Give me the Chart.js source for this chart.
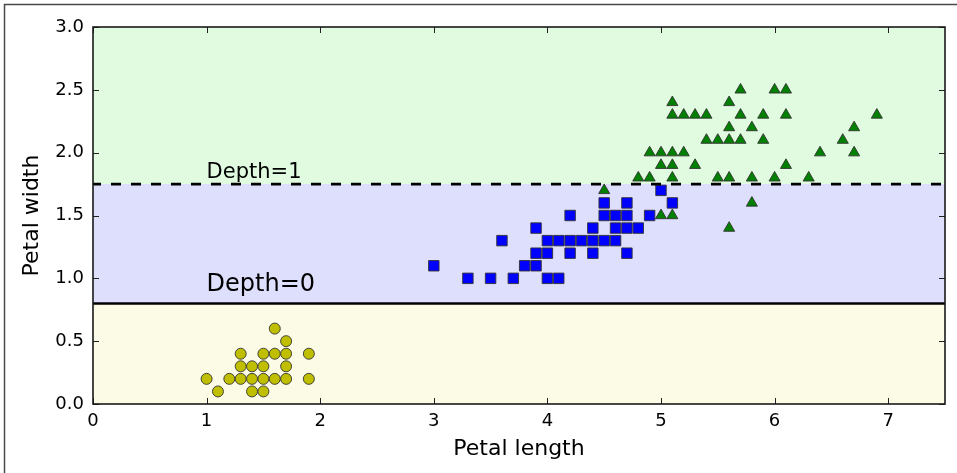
<!DOCTYPE html>
<html>
<head>
<meta charset="utf-8">
<script src="https://cdn.jsdelivr.net/npm/chart.js@4/dist/chart.umd.min.js"></script>
<style>
  html, body { margin: 0; padding: 0; background: #fff; }
  #wrap { width: 957px; height: 473px; position: relative; }
</style>
</head>
<body>
<div id="wrap"><canvas id="c" width="957" height="473"></canvas></div>
<script>
// ---- data ----
const setosaLength = [1.0, 1.1, 1.2, 1.3, 1.3, 1.3, 1.4, 1.4, 1.4, 1.5, 1.5, 1.5, 1.5, 1.6, 1.6, 1.6, 1.7, 1.7, 1.7, 1.7, 1.9, 1.9];
const setosaWidth  = [0.2, 0.1, 0.2, 0.2, 0.3, 0.4, 0.1, 0.2, 0.3, 0.1, 0.2, 0.3, 0.4, 0.2, 0.4, 0.6, 0.2, 0.3, 0.4, 0.5, 0.2, 0.4];

const versicolorLength = [4.7, 4.5, 4.9, 4.0, 4.6, 4.5, 4.7, 3.3, 4.6, 3.9, 3.5, 4.2, 4.0, 3.6, 4.4, 4.1, 3.9, 4.7, 4.3, 4.8, 5.0, 3.8, 3.7, 3.9, 5.1, 4.5, 4.7, 4.4, 4.1, 4.4, 4.6, 4.0, 4.2, 4.2, 3.0];
const versicolorWidth  = [1.4, 1.5, 1.5, 1.3, 1.5, 1.3, 1.6, 1.0, 1.3, 1.4, 1.0, 1.5, 1.0, 1.3, 1.4, 1.0, 1.1, 1.2, 1.3, 1.4, 1.7, 1.1, 1.0, 1.2, 1.6, 1.6, 1.5, 1.3, 1.3, 1.2, 1.4, 1.2, 1.3, 1.2, 1.1];

const virginicaLength = [6.0, 5.1, 5.9, 5.6, 5.8, 6.6, 4.5, 6.3, 5.8, 6.1, 5.1, 5.3, 5.5, 5.0, 5.1, 5.3, 5.5, 6.7, 6.9, 5.0, 5.7, 4.9, 6.7, 4.9, 5.7, 6.0, 4.8, 5.6, 5.8, 6.1, 6.4, 5.6, 5.1, 5.6, 6.1, 5.6, 5.4, 5.1, 5.9, 5.7, 5.2, 5.0, 5.2, 5.4, 5.1];
const virginicaWidth  = [2.5, 1.9, 2.1, 1.8, 2.2, 2.1, 1.7, 1.8, 1.8, 2.5, 2.0, 1.9, 2.1, 2.0, 2.4, 2.3, 1.8, 2.2, 2.3, 1.5, 2.3, 2.0, 2.0, 1.8, 2.1, 1.8, 1.8, 2.1, 1.6, 1.9, 2.0, 2.2, 1.5, 1.4, 2.3, 2.4, 2.1, 2.3, 2.3, 2.5, 2.3, 1.9, 2.0, 2.3, 1.8];

const depth0Threshold = 0.8;    // petal width split, depth 0
const depth1Threshold = 1.75;   // petal width split, depth 1
const xRange = [0, 7.5];
const yRange = [0, 3];
const xTickLabels = ['0', '1', '2', '3', '4', '5', '6', '7'];
const yTickLabels = ['0.0', '0.5', '1.0', '1.5', '2.0', '2.5', '3.0'];
const annotations = [
  { text: 'Depth=0', x: 1.0, y: 0.9 },
  { text: 'Depth=1', x: 1.0, y: 1.8 }
];

// ---- helpers ----
const pts = (xs, ys) => xs.map((x, i) => ({ x: x, y: ys[i] }));
const hline = (v) => [{ x: xRange[0], y: v }, { x: xRange[1], y: v }];
const FONT = "'DejaVu Sans', sans-serif";

const decorPlugin = {
  id: 'decor',
  beforeDraw(chart) {
    const ctx = chart.ctx;
    ctx.save();
    ctx.strokeStyle = '#4a4a4a';
    ctx.lineWidth = 1.5;
    ctx.beginPath();
    ctx.moveTo(4.5, 473);
    ctx.lineTo(4.5, 4.5);
    ctx.lineTo(957, 4.5);
    ctx.stroke();
    ctx.restore();
  },
  afterDatasetsDraw(chart) {
    const ctx = chart.ctx;
    const xs = chart.scales.x, ys = chart.scales.y;
    const a = chart.chartArea;
    ctx.save();
    // annotations
    ctx.fillStyle = '#000';
    ctx.textAlign = 'left';
    ctx.textBaseline = 'alphabetic';
    const sizes = [24, 21];
    annotations.forEach((an, i) => {
      ctx.font = sizes[i] + 'px ' + FONT;
      ctx.fillText(an.text, xs.getPixelForValue(an.x), ys.getPixelForValue(an.y));
    });
    // inward ticks
    ctx.strokeStyle = '#222';
    ctx.lineWidth = 1;
    const tl = 6;
    ctx.beginPath();
    xs.ticks.forEach(t => {
      const px = Math.round(xs.getPixelForValue(t.value)) + 0.5;
      ctx.moveTo(px, a.bottom); ctx.lineTo(px, a.bottom - tl);
      ctx.moveTo(px, a.top); ctx.lineTo(px, a.top + tl);
    });
    ys.ticks.forEach(t => {
      const py = Math.round(ys.getPixelForValue(t.value)) + 0.5;
      ctx.moveTo(a.left, py); ctx.lineTo(a.left + tl, py);
      ctx.moveTo(a.right, py); ctx.lineTo(a.right - tl, py);
    });
    ctx.stroke();
    // spine
    ctx.strokeStyle = '#1a1a1a';
    ctx.lineWidth = 1.6;
    ctx.strokeRect(a.left, a.top, a.right - a.left, a.bottom - a.top);
    ctx.restore();
  }
};

const markerEdge = '#333333';

new Chart(document.getElementById('c'), {
  type: 'scatter',
  data: {
    datasets: [
      { label: 'depth0', data: hline(depth0Threshold), showLine: true, borderColor: '#000', borderWidth: 2.6, pointRadius: 0, fill: false, order: 0 },
      { label: 'depth1', data: hline(depth1Threshold), showLine: true, borderColor: '#000', borderWidth: 2.6, borderDash: [10, 10], borderDashOffset: 2, pointRadius: 0, fill: false, order: 0 },
      { label: 'Iris virginica', data: pts(virginicaLength, virginicaWidth), pointStyle: 'triangle', pointRadius: 6.4, backgroundColor: '#008000', borderColor: markerEdge, borderWidth: 0.9, order: 1 },
      { label: 'Iris versicolor', data: pts(versicolorLength, versicolorWidth), pointStyle: 'rect', pointRadius: 7.4, backgroundColor: '#0000ff', borderColor: markerEdge, borderWidth: 0.9, order: 2 },
      { label: 'Iris setosa', data: pts(setosaLength, setosaWidth), pointStyle: 'circle', pointRadius: 5.5, backgroundColor: '#bfbf00', borderColor: markerEdge, borderWidth: 0.9, order: 3 },
      { label: 'regionYellow', data: hline(depth0Threshold), showLine: true, borderWidth: 0, pointRadius: 0, fill: 'start', backgroundColor: '#fcfce6', order: 10 },
      { label: 'regionBlue', data: hline(depth1Threshold), showLine: true, borderWidth: 0, pointRadius: 0, fill: { value: depth0Threshold }, backgroundColor: '#dedefd', order: 11 },
      { label: 'regionGreen', data: hline(depth1Threshold), showLine: true, borderWidth: 0, pointRadius: 0, fill: 'end', backgroundColor: '#e0fbe0', order: 12 }
    ]
  },
  options: {
    responsive: false,
    animation: false,
    events: [],
    layout: { padding: { top: 27, right: 12, left: 0, bottom: 0 } },
    plugins: {
      legend: { display: false },
      tooltip: { enabled: false },
      filler: { propagate: false }
    },
    scales: {
      x: {
        type: 'linear', min: xRange[0], max: xRange[1],
        grid: { display: false, drawTicks: false },
        border: { display: false },
        ticks: {
          stepSize: 1, includeBounds: false, padding: 7, color: '#000',
          font: { family: FONT, size: 18 },
          callback: (v) => xTickLabels[Math.round(v)] ?? ''
        },
        title: { display: true, text: 'Petal length', color: '#000', font: { family: FONT, size: 22 }, padding: { top: 0, bottom: 11 } },
        afterFit: (s) => { s.height = 69; }
      },
      y: {
        type: 'linear', min: yRange[0], max: yRange[1],
        grid: { display: false, drawTicks: false },
        border: { display: false },
        ticks: {
          stepSize: 0.5, includeBounds: false, padding: 9, color: '#000',
          font: { family: FONT, size: 18 },
          callback: (v) => yTickLabels[Math.round(v * 2)] ?? ''
        },
        title: { display: true, text: 'Petal width', color: '#000', font: { family: FONT, size: 22 }, padding: { top: 19, bottom: 0 } },
        afterFit: (s) => { s.width = 93; }
      }
    }
  },
  plugins: [decorPlugin]
});
</script>
</body>
</html>
